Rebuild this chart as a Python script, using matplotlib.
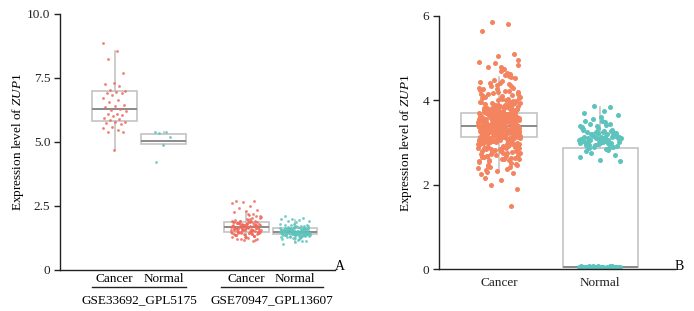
import numpy as np
import matplotlib
matplotlib.use('Agg')
import matplotlib.pyplot as plt
from matplotlib.lines import Line2D

plt.rcParams['font.family'] = ['Liberation Serif', 'DejaVu Serif']
plt.rcParams['font.size'] = 9
plt.rcParams['mathtext.fontset'] = 'custom'
plt.rcParams['mathtext.rm'] = 'Liberation Serif'
plt.rcParams['mathtext.it'] = 'Liberation Serif:italic'

# ── data: panel A ─────────────────────────────────────────────────────────────
a_groups = ['GSE33692_GPL5175', 'GSE70947_GPL13607']
a_conditions = ['Cancer', 'Normal']
a_yticks = [0, 2.5, 5.0, 7.5, 10.0]
a_yticklabels = ['0', '2.5', '5.0', '7.5', '10.0']

a_cancer1 = [8.85, 8.55, 8.25, 7.7, 7.3, 7.25, 7.2, 7.05, 7.0, 6.95, 6.92, 6.9,
             6.85, 6.7, 6.65, 6.55, 6.45, 6.4, 6.35, 6.3, 6.25, 6.2, 6.1, 6.08,
             6.05, 6.0, 5.95, 5.9, 5.85, 5.8, 5.78, 5.75, 5.7, 5.6, 5.55, 5.45,
             5.4, 5.38, 4.7]
a_normal1 = [5.4, 5.38, 5.35, 5.2, 4.88, 4.22]
a_cancer2 = [
    1.68, 1.52, 1.85, 1.41, 1.73, 1.6, 2.02, 1.47, 1.79, 1.63, 1.35, 1.9, 1.56, 1.71, 1.44, 1.82, 1.66, 1.29, 1.94, 1.58,
    1.75, 1.49, 1.87, 1.62, 2.1, 1.38, 1.69, 1.54, 1.8, 1.45, 1.98, 1.65, 1.33, 1.77, 1.5, 1.88, 1.61, 1.23, 1.72, 1.57,
    1.84, 1.43, 2.05, 1.67, 1.51, 1.76, 1.39, 1.92, 1.59, 1.7, 1.46, 1.83, 1.64, 1.31, 1.78, 1.55, 2.15, 1.48, 1.74, 1.62,
    1.86, 1.42, 1.69, 1.53, 1.96, 1.36, 1.81, 1.6, 1.27, 1.73, 1.5, 1.89, 1.66, 1.4, 2.2, 1.57, 1.76, 1.44, 1.85, 1.63,
    1.19, 1.7, 1.52, 1.91, 1.47, 1.8, 1.65, 1.34, 1.77, 1.58, 2.0, 1.46, 1.72, 1.55, 1.87, 1.39, 1.68, 1.61, 1.25, 1.83,
    1.54, 1.75, 1.43, 1.93, 1.67, 1.5, 1.79, 1.37, 1.71, 1.59, 2.08, 1.45, 1.84, 1.64, 1.3, 1.74, 1.56, 1.9, 1.48, 1.69,
    2.7, 2.68, 2.65, 2.6, 2.5, 2.42, 2.35, 2.3, 2.25, 1.15, 1.2, 2.12, 2.18, 1.22, 1.16]
a_normal2 = [
    1.5, 1.42, 1.61, 1.36, 1.55, 1.47, 1.7, 1.31, 1.58, 1.45, 1.66, 1.39, 1.52, 1.27, 1.63, 1.48, 1.76, 1.41, 1.57, 1.34,
    1.53, 1.44, 1.68, 1.38, 1.6, 1.49, 1.22, 1.56, 1.43, 1.73, 1.35, 1.51, 1.64, 1.4, 1.81, 1.46, 1.29, 1.59, 1.37, 1.54,
    1.47, 1.65, 1.33, 1.5, 1.42, 1.71, 1.25, 1.57, 1.45, 1.62, 1.39, 1.86, 1.52, 1.36, 1.6, 1.44, 1.18, 1.55, 1.48, 1.67,
    1.41, 1.53, 1.3, 1.63, 1.46, 1.75, 1.38, 1.58, 1.5, 1.21, 1.61, 1.43, 1.69, 1.35, 1.56, 1.47, 1.92, 1.4, 1.54, 1.32,
    1.64, 1.49, 1.26, 1.59, 1.44, 1.72, 1.37, 1.51, 1.45, 1.66, 1.34, 1.57, 1.42, 1.79, 1.48, 1.28, 1.6, 1.39, 1.53, 1.46,
    1.62, 1.41, 1.55, 1.33, 1.68, 1.47, 1.24, 1.58, 1.43, 1.74, 1.36, 1.52, 1.49, 1.63, 1.4, 1.56, 1.31, 1.65, 1.44, 1.5,
    2.1, 2.05, 2.0, 1.98, 1.95, 1.9, 1.12, 1.08, 1.0, 1.15]
a_points = [a_cancer1, a_normal1, a_cancer2, a_normal2]

# box summaries: (whislo, q1, med, q3, whishi)
a_box_stats = [(4.7, 5.82, 6.29, 6.99, 8.55),
               (4.88, 4.92, 5.04, 5.33, 5.4),
               (1.22, 1.48, 1.68, 1.88, 2.27),
               (1.1, 1.41, 1.48, 1.64, 1.95)]

# ── data: panel B ─────────────────────────────────────────────────────────────
b_conditions = ['Cancer', 'Normal']
b_yticks = [0, 2, 4, 6]
b_cancer = [
    3.41, 3.12, 3.78, 2.95, 3.55, 3.26, 4.02, 3.38, 2.71, 3.64, 3.19, 3.47, 3.88, 3.05, 3.33, 2.58, 3.71, 3.44, 3.21, 4.21,
    3.36, 2.88, 3.59, 3.15, 3.92, 3.48, 3.02, 3.67, 4.35, 3.29, 2.79, 3.52, 3.09, 3.83, 3.4, 3.18, 2.46, 3.61, 3.74, 3.23,
    3.5, 3.94, 2.91, 3.37, 3.13, 4.12, 3.56, 3.27, 2.67, 3.69, 3.43, 3.07, 3.81, 3.32, 4.48, 3.16, 3.58, 2.99, 3.45, 3.72,
    3.24, 3.63, 2.84, 3.39, 4.06, 3.11, 3.53, 3.86, 2.53, 3.3, 3.66, 3.2, 3.46, 4.27, 3.01, 3.57, 3.35, 2.76, 3.79, 3.14,
    3.42, 3.97, 3.08, 3.62, 2.93, 3.31, 3.76, 4.63, 3.22, 3.49, 2.62, 3.68, 3.17, 3.89, 3.34, 3.04, 3.54, 4.15, 2.87, 3.44,
    3.28, 3.73, 3.1, 3.6, 2.41, 3.38, 3.85, 3.25, 4.38, 3.51, 2.97, 3.65, 3.19, 3.99, 3.4, 2.72, 3.55, 3.06, 3.8, 3.3,
    4.09, 3.47, 2.83, 3.7, 3.14, 3.36, 4.52, 3.23, 3.58, 2.94, 3.43, 3.87, 3.12, 2.35, 3.64, 3.27, 4.24, 3.5, 3.03, 3.77,
    3.33, 2.65, 3.59, 3.18, 3.93, 3.45, 2.9, 3.67, 4.01, 3.21, 3.52, 2.78, 3.39, 4.7, 3.09, 3.62, 3.3, 2.56, 3.84, 3.41,
    3.15, 3.74, 2.98, 3.48, 4.18, 3.26, 3.56, 2.69, 3.69, 3.35, 3.0, 3.9, 3.44, 2.47, 3.61, 3.2, 4.33, 3.53, 2.86, 3.37,
    3.78, 3.11, 3.46, 4.05, 2.92, 3.63, 3.29, 2.6, 3.71, 3.4, 3.07, 4.44, 3.55, 3.24, 2.81, 3.66, 3.16, 3.95, 3.42, 2.74,
    3.5, 3.83, 3.13, 4.26, 3.34, 2.96, 3.6, 3.22, 4.79, 3.47, 2.51, 3.68, 3.05, 3.88, 3.38, 2.89, 3.57, 4.11, 3.28, 3.75,
    3.17, 3.45, 2.68, 3.64, 3.01, 3.96, 3.32, 4.41, 3.54, 2.85, 3.72, 3.23, 3.43, 2.39, 3.82, 3.1, 3.58, 4.2, 3.36, 2.95,
    3.67, 3.27, 4.03, 3.49, 2.77, 3.62, 3.14, 3.86, 3.41, 2.63, 3.7, 3.31, 4.57, 3.04, 3.53, 3.19, 2.9, 3.76, 3.44, 4.14,
    3.25, 3.59, 2.82, 3.39, 3.91, 3.08, 3.65, 4.3, 3.35, 2.55, 3.73, 3.2, 3.48, 2.99, 3.81, 3.12, 4.47, 3.56, 3.3, 2.7,
    3.63, 3.4, 3.02, 3.98, 3.46, 2.88, 3.69, 3.17, 4.08, 3.52, 2.44, 3.37, 3.79, 3.26, 4.66, 3.09, 3.6, 2.8, 3.43, 3.85,
    3.21, 3.55, 4.23, 3.33, 2.93, 3.66, 3.06, 3.92, 3.42, 2.61, 3.74, 3.15, 3.5, 4.37, 3.28, 2.76, 3.61, 3.0, 3.87, 3.38,
    3.11, 3.7, 2.97, 3.47, 4.16, 3.24, 3.58, 2.66, 3.64, 3.32, 4.84, 3.45, 2.84, 3.77, 3.18, 3.54, 4.0, 3.36, 2.5, 3.68,
    3.29, 3.9, 3.04, 3.57, 2.91, 3.41, 4.29, 3.13, 3.62, 3.22, 2.73, 3.8, 3.44, 3.07, 4.55, 3.51, 2.95, 3.67, 3.34, 3.97,
    3.16, 3.49, 2.58, 3.72, 3.27, 4.1, 3.39, 3.01, 3.84, 3.56, 2.87, 3.63, 3.2, 4.4, 3.46, 2.42, 3.75, 3.1, 3.59, 3.31,
    3.93, 3.43, 2.79, 3.65, 3.14, 4.19, 3.53, 3.25, 2.64, 3.71, 3.37, 4.6, 3.05, 3.58, 3.23, 2.99, 3.82, 3.4, 4.05, 3.18,
    2.3, 2.27, 2.33, 2.25, 2.36, 2.0, 1.9, 2.1, 2.15, 1.5, 4.88, 4.92, 4.75, 4.8, 5.1, 5.05, 5.65, 5.8, 5.85, 4.95]
b_normal = [
    3.05, 3.12, 2.95, 3.2, 3.08, 3.3, 2.88, 3.15, 3.02, 3.25, 2.92, 3.18, 3.1, 3.38, 2.85, 3.05, 3.22, 3.0, 3.14, 3.45,
    2.9, 3.08, 3.28, 2.98, 3.16, 3.35, 3.04, 2.82, 3.2, 3.1, 3.5, 2.94, 3.12, 3.26, 3.0, 3.42, 2.87, 3.18, 3.06, 3.32,
    2.96, 3.55, 3.13, 3.02, 3.24, 2.89, 3.4, 3.09, 3.2, 2.76, 3.15, 3.6, 3.01, 3.27, 2.93, 3.11, 3.48, 3.05, 2.7, 3.22,
    3.36, 2.99, 3.17, 3.65, 3.07, 2.8, 3.3, 3.14, 2.65, 3.03, 3.44, 3.19, 2.58, 3.7, 3.85, 3.87, 2.55, 3.75, 3.1, 3.23,
    2.97, 3.34, 3.06, 3.21, 2.91, 3.12, 3.52, 3.0,
    0.04, 0.05, 0.03, 0.06, 0.04, 0.05, 0.03, 0.04, 0.06, 0.05, 0.04, 0.03, 0.05, 0.04, 0.06, 0.05, 0.04, 0.03, 0.05, 0.04,
    0.06, 0.04, 0.05, 0.03, 0.04, 0.05, 0.06, 0.04, 0.05, 0.03, 0.04, 0.05, 0.04, 0.06, 0.05, 0.04, 0.03, 0.05, 0.04, 0.05]
b_points = [b_cancer, b_normal]
b_box_stats = [(2.3, 3.13, 3.39, 3.70, 4.55),
               (0.02, 0.04, 0.05, 2.87, 3.84)]

# ── layout (pixel-based x coordinates inside each axes) ─────────────────────
A_POS = [54.5, 103.5, 186, 235]
A_BOXW = [45, 45, 45, 44]
A_JIT = [24, 18, 30, 30]
B_POS = [60, 161]
B_BOXW = [76, 75]
B_JIT = [42, 42]

C_RED = '#F0695A'
C_ORANGE = '#F4845F'
C_TEAL = '#5CC3BD'
BOX_EDGE = '#C4C4C4'
MED_COL = '#8A8A8A'
TXT = '#222222'


def jitter(n, width):
    # deterministic spread of x offsets (golden-ratio sequence)
    return ((np.arange(n) * 0.6180339887) % 1.0 - 0.5) * width


def draw_boxes(ax, stats, pos, widths):
    bstats = [dict(whislo=s[0], q1=s[1], med=s[2], q3=s[3], whishi=s[4], fliers=[])
              for s in stats]
    ax.bxp(bstats, positions=pos, widths=widths, showcaps=False, patch_artist=True,
           boxprops=dict(facecolor='none', edgecolor=BOX_EDGE, linewidth=1.2),
           whiskerprops=dict(color=BOX_EDGE, linewidth=1.2),
           medianprops=dict(color=MED_COL, linewidth=1.4),
           manage_ticks=False, zorder=1)


def style_axes(ax):
    for side in ['top', 'right']:
        ax.spines[side].set_visible(False)
    for side in ['left', 'bottom']:
        ax.spines[side].set_linewidth(1.0)
        ax.spines[side].set_color(TXT)
    ax.tick_params(axis='y', direction='out', length=4, width=1.0, pad=3,
                   labelsize=9.5, colors=TXT)


fig = plt.figure(figsize=(6.94, 3.11), dpi=100)

# ── panel A ──
axA = fig.add_axes([60 / 694, 41 / 311, 275 / 694, 256 / 311])
draw_boxes(axA, a_box_stats, A_POS, A_BOXW)
for i, vals in enumerate(a_points):
    col = C_RED if i % 2 == 0 else C_TEAL
    x = A_POS[i] + jitter(len(vals), A_JIT[i])
    axA.scatter(x, vals, s=4, color=col, alpha=0.85, linewidths=0, zorder=2)
axA.set_xlim(0, 275)
axA.set_ylim(0, 10)
axA.set_yticks(a_yticks)
axA.set_yticklabels(a_yticklabels)
axA.set_xticks([])
style_axes(axA)
axA.set_ylabel('Expression level of $\\it{ZUP1}$', fontsize=9.5, labelpad=1)

trans = axA.get_xaxis_transform()
for g, name in enumerate(a_groups):
    p1, p2 = A_POS[2 * g], A_POS[2 * g + 1]
    for p, cond in zip((p1, p2), a_conditions):
        axA.text(p, -0.035, cond, transform=trans, ha='center', va='center',
                 fontsize=9.5, clip_on=False)
    left = p1 - A_BOXW[2 * g] / 2 - (0 if g == 0 else 3)
    right = p2 + A_BOXW[2 * g + 1] / 2 + (0 if g == 0 else 6)
    axA.add_line(Line2D([left, right], [-0.066, -0.066], transform=trans,
                        color=TXT, linewidth=1.0, clip_on=False))
    axA.text((left + right) / 2, -0.117, name, transform=trans, ha='center',
             va='center', fontsize=9.5, clip_on=False)

# ── panel B ──
axB = fig.add_axes([439 / 694, 42 / 311, 236 / 694, 253 / 311])
draw_boxes(axB, b_box_stats, B_POS, B_BOXW)
for i, vals in enumerate(b_points):
    col = C_ORANGE if i == 0 else C_TEAL
    x = B_POS[i] + jitter(len(vals), B_JIT[i])
    axB.scatter(x, vals, s=13, color=col, alpha=1.0, linewidths=0, zorder=2)
axB.set_xlim(0, 236)
axB.set_ylim(0, 6)
axB.set_yticks(b_yticks)
axB.set_xticks(B_POS)
axB.set_xticklabels(b_conditions)
axB.tick_params(axis='x', length=0, pad=6, labelsize=9.5, colors=TXT)
style_axes(axB)
axB.set_ylabel('Expression level of $\\it{ZUP1}$', fontsize=9.5, labelpad=6)

fig.text(340 / 694, 1 - 266 / 311, 'A', ha='center', va='center', fontsize=10)
fig.text(679 / 694, 1 - 266 / 311, 'B', ha='center', va='center', fontsize=10)

fig.savefig('out.png', dpi=100)
